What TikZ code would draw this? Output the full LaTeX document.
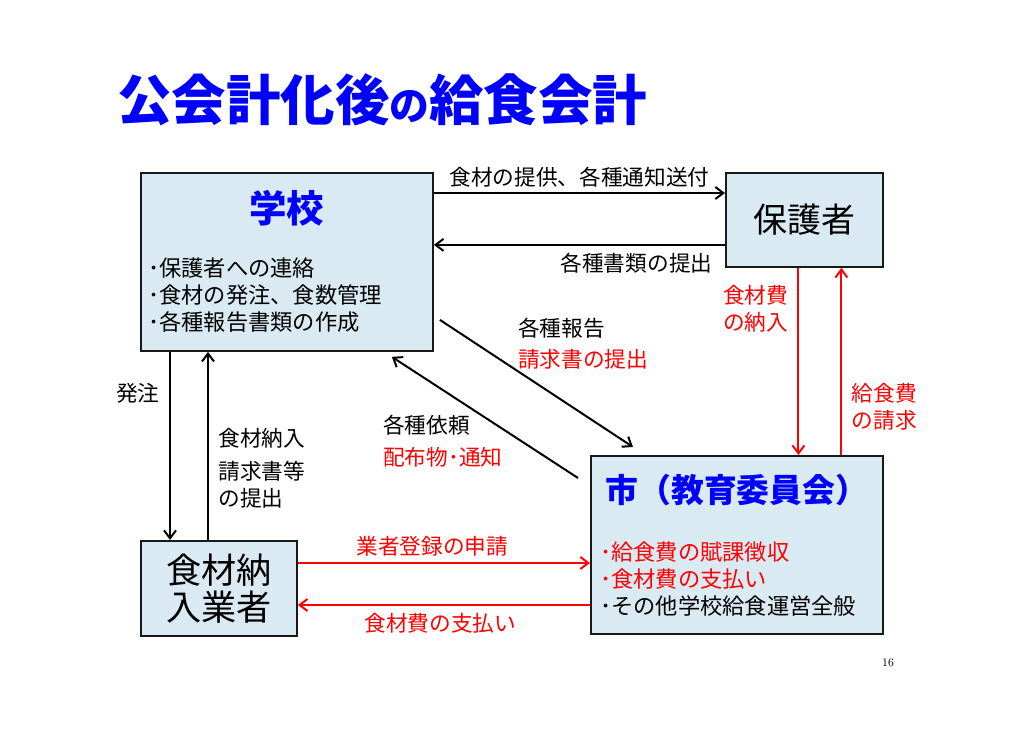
\documentclass[tikz,border=0pt]{standalone}
\usepackage{fontspec}
\newfontfamily\jp{Noto Sans CJK JP}
\usetikzlibrary{positioning,arrows.meta,calc}
\definecolor{boxfill}{RGB}{218,234,243}
\definecolor{titleblue}{RGB}{0,0,255}
\definecolor{linkred}{RGB}{255,0,0}

\begin{document}
\begin{tikzpicture}[
  x=0.3mm, y=-0.3mm,
  font=\jp,
  unit/.style     = {draw=black!90, line width=1.6pt, fill=boxfill,
                     inner sep=0pt, anchor=north west},
  heading/.style  = {font=\jp\bfseries\fontsize{32}{36}\selectfont,
                     text=titleblue},
  bullets/.style  = {align=left, anchor=north west, inner sep=0pt,
                     font=\jp\fontsize{19}{23}\selectfont},
  lbl/.style      = {font=\jp\fontsize{18.5}{23}\selectfont, inner sep=0pt},
  arrow/.style    = {-{Straight Barb[length=2.4mm,width=3.6mm]},
                     line width=1.7pt},
  redarrow/.style = {arrow, draw=linkred},
]
\useasboundingbox (0,0) rectangle (1024,729);

% ===== Title =====
\node[anchor=west, font=\jp\bfseries\fontsize{46.5}{50}\selectfont,
      text=titleblue] (title) at (113,100)
      {公会計化後{\fontsize{34}{34}\selectfont の}給食会計};

% ===== Boxes =====
\node[unit, minimum width=87.6mm, minimum height=53.4mm] (school) at (140,172) {};
\node[unit, minimum width=47.1mm, minimum height=28.2mm] (parent) at (725,172) {};
\node[unit, minimum width=46.8mm, minimum height=28.5mm] (vendor) at (140,540) {};
\node[unit, minimum width=87.6mm, minimum height=53.4mm] (city) at (590,455) {};

% ===== Box texts =====
\node[heading] (schooltitle) at ($(school.north)+(0,36)$) {学校};
\node[bullets] (schoollist) at ($(school.north west)+(8,258-172)$)
      {･保護者への連絡\\･食材の発注、食数管理\\･各種報告書類の作成};
\node[font=\jp\fontsize{29}{32}\selectfont] (parenttext) at (parent.center) {保護者};
\node[font=\jp\fontsize{30}{31.6}\selectfont, align=center] (vendortext)
      at (vendor.center) {食材納\\入業者};
\node[heading, font=\jp\bfseries\fontsize{28}{32}\selectfont] (citytitle)
      at ($(city.north)+(0,35)$) {市（教育委員会）};
\node[bullets] (citylist) at ($(city.north west)+(10,87)$)
      {\textcolor{linkred}{･給食費の賦課徴収}\\
       \textcolor{linkred}{･食材費の支払い}\\
       ･その他学校給食運営全般};

% ===== School <-> parent =====
\draw[arrow] ($(school.north east)+(0,21)$) -- ($(parent.north west)+(0,21)$)
   node[midway, above=4pt, lbl] {食材の提供、各種通知送付};
\path ($(parent.south west)+(0,-23)$) coordinate (p2);
\draw[arrow] (p2) -- (p2 -| school.east)
   node[pos=0.04, anchor=north east, lbl, yshift=-6pt] {各種書類の提出};

% ===== Parent <-> city (red) =====
\path ($(parent.south)+(-6,0)$) coordinate (p3);
\draw[redarrow] (p3) -- (p3 |- city.north)
   node[pos=0.22, left=8pt, lbl, align=left, text=linkred] {食材費\\の納入};
\path ($(parent.south)+(37,0)$) coordinate (p4);
\draw[redarrow] (p4 |- city.north) -- (p4)
   node[pos=0.26, right=8pt, lbl, align=left, text=linkred] {給食費\\の請求};

% ===== School <-> city (diagonals) =====
\draw[arrow] ($(school.south east)+(6,-32)$) -- ($(city.north west)+(43,-8)$)
   node[pos=0.4, anchor=south west, lbl, align=left]
        {各種報告\\[4pt]\textcolor{linkred}{請求書の提出}};
\draw[arrow] ($(city.north west)+(-12,23)$) -- ($(school.south east)+(-42,5)$)
   node[pos=0.35, anchor=east, lbl, align=left, xshift=-8pt, yshift=-5pt]
        {各種依頼\\[4pt]\textcolor{linkred}{配布物･通知}};

% ===== School <-> vendor =====
\path ($(school.south west)+(30,0)$) coordinate (s1);
\draw[arrow] (s1) -- (s1 |- vendor.north)
   node[pos=0.22, left=8pt, lbl] {発注};
\path ($(school.south west)+(68,0)$) coordinate (s2);
\draw[arrow] (s2 |- vendor.north) -- (s2)
   node[pos=0.38, right=8pt, lbl, align=left] {食材納入\\[5pt]請求書等\\の提出};

% ===== Vendor <-> city (red) =====
\path ($(vendor.north east)+(0,23)$) coordinate (v1);
\draw[redarrow] (v1) -- (v1 -| city.west)
   node[midway, above=5pt, lbl, text=linkred, xshift=-10pt] {業者登録の申請};
\path ($(vendor.north east)+(0,65)$) coordinate (v2);
\draw[redarrow] (v2 -| city.west) -- (v2)
   node[midway, below=6pt, lbl, text=linkred, xshift=-3pt] {食材費の支払い};

% ===== Page number =====
\node[font=\rmfamily\fontsize{10}{12}\selectfont] (page) at (888,663) {16};

\end{tikzpicture}
\end{document}
